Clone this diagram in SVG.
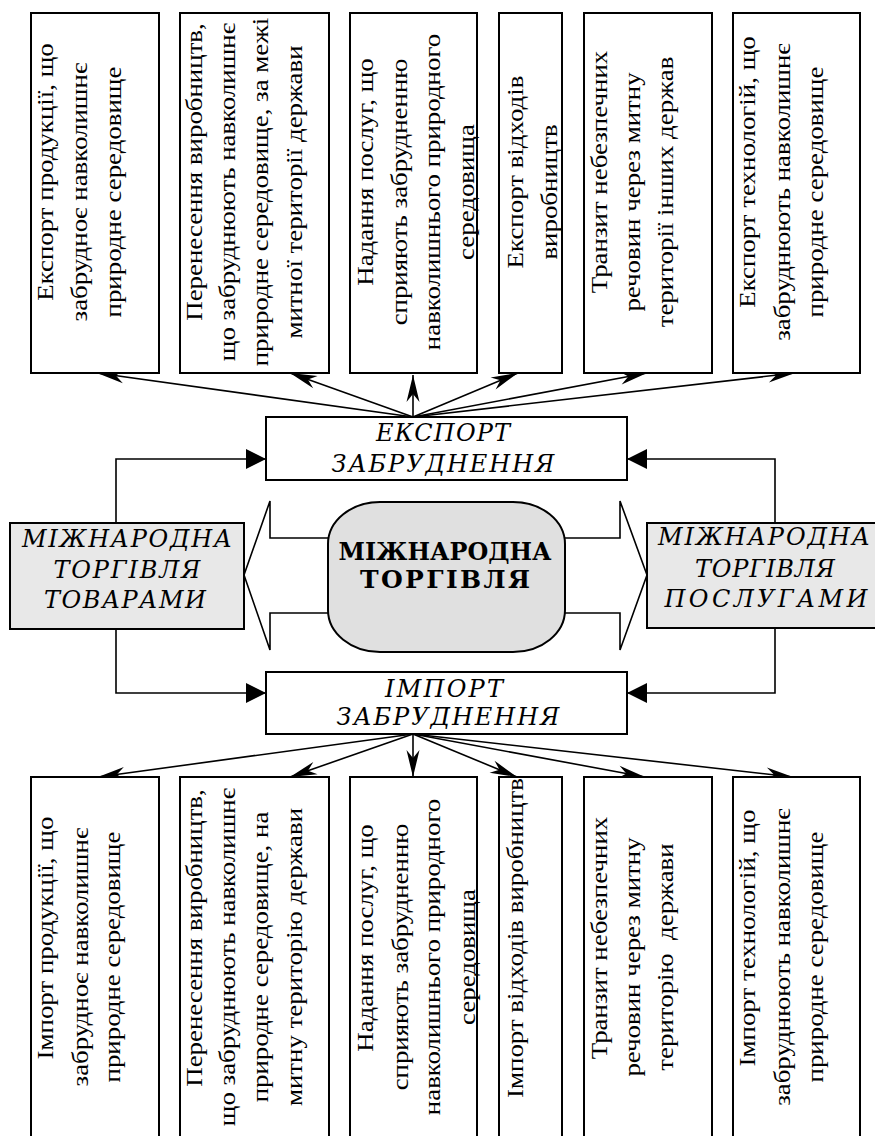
<svg xmlns="http://www.w3.org/2000/svg" width="875" height="1136" viewBox="0 0 875 1136">
<defs>
<style>
.box{fill:#fff;stroke:#000;stroke-width:2}
.gbox{fill:#e8e8e8;stroke:#000;stroke-width:2}
.vt{font-family:"Liberation Serif","Times New Roman",serif;font-size:24px;text-anchor:middle;white-space:pre}
.it{font-family:"DejaVu Serif",serif;font-style:italic;font-size:24px;text-anchor:middle}
.bd{font-family:"DejaVu Serif",serif;font-weight:bold;font-size:25px;text-anchor:middle}
.ln{fill:none;stroke:#000;stroke-width:1.6}
.blk{fill:#fff;stroke:#000;stroke-width:1.6}
</style>
<marker id="st" markerUnits="userSpaceOnUse" viewBox="-28 -7 30 14" refX="0" refY="0" markerWidth="30" markerHeight="14" orient="auto">
<path d="M0,0 L-27,-6.5 L-19,0 L-27,6.5 z" fill="#000"/>
</marker>
<marker id="tri" markerUnits="userSpaceOnUse" viewBox="-21 -11 22 22" refX="0" refY="0" markerWidth="22" markerHeight="22" orient="auto">
<path d="M0,0 L-20,-10 L-20,10 z" fill="#000"/>
</marker>
</defs>
<rect width="875" height="1136" fill="#fff"/>

<g id="connectors">
<line class="ln" x1="413" y1="417" x2="97" y2="373" marker-end="url(#st)"/>
<line class="ln" x1="413" y1="417" x2="290" y2="373" marker-end="url(#st)"/>
<line class="ln" x1="413" y1="417" x2="413" y2="375" marker-end="url(#st)"/>
<line class="ln" x1="413" y1="417" x2="518" y2="373" marker-end="url(#st)"/>
<line class="ln" x1="413" y1="417" x2="647" y2="373" marker-end="url(#st)"/>
<line class="ln" x1="413" y1="417" x2="795" y2="373" marker-end="url(#st)"/>
<line class="ln" x1="413" y1="734" x2="98" y2="777" marker-end="url(#st)"/>
<line class="ln" x1="413" y1="734" x2="290" y2="777" marker-end="url(#st)"/>
<line class="ln" x1="413" y1="734" x2="413" y2="777" marker-end="url(#st)"/>
<line class="ln" x1="413" y1="734" x2="517" y2="777" marker-end="url(#st)"/>
<line class="ln" x1="413" y1="734" x2="645" y2="777" marker-end="url(#st)"/>
<line class="ln" x1="413" y1="734" x2="793" y2="777" marker-end="url(#st)"/>
<polyline class="ln" points="116,523 116,459 266,459" marker-end="url(#tri)"/>
<polyline class="ln" points="116,629 116,693 266,693" marker-end="url(#tri)"/>
<polyline class="ln" points="775,523 775,459 627,459" marker-end="url(#tri)"/>
<polyline class="ln" points="775,628 775,693 627,693" marker-end="url(#tri)"/>
<polygon class="blk" points="333,538 270,538 270,501 244,575 270,650 270,613 333,613"/>
<polygon class="blk" points="560,538 620,538 620,501 647,575 620,650 620,613 560,613"/>
</g>

<g id="export-1"><rect class="box" x="31" y="13" width="128" height="360"/>
<text class="vt" transform="translate(53,172) rotate(-90) scale(1.12,1)">Експорт продукції, що</text>
<text class="vt" transform="translate(87,192) rotate(-90) scale(1.12,1)">забрудноє навколишнє</text>
<text class="vt" transform="translate(121,192) rotate(-90) scale(1.12,1)">природне середовище</text></g>
<g id="export-2"><rect class="box" x="180" y="13" width="149" height="360"/>
<text class="vt" transform="translate(202,172) rotate(-90) scale(1.12,1)">Перенесення виробництв,</text>
<text class="vt" transform="translate(235,192) rotate(-90) scale(1.12,1)">що забруднюють навколишнє</text>
<text class="vt" transform="translate(268,192) rotate(-90) scale(1.12,1)">природне середовище, за межі</text>
<text class="vt" transform="translate(302,192) rotate(-90) scale(1.12,1)">митної території держави</text></g>
<g id="export-3"><rect class="box" x="350" y="13" width="127" height="360"/>
<text class="vt" transform="translate(373,172) rotate(-90) scale(1.12,1)">Надання послуг, що</text>
<text class="vt" transform="translate(407,192) rotate(-90) scale(1.12,1)">сприяють забрудненню</text>
<text class="vt" transform="translate(440,192) rotate(-90) scale(1.12,1)">навколишнього природного</text>
<text class="vt" transform="translate(474,192) rotate(-90) scale(1.12,1)">середовища</text></g>
<g id="export-4"><rect class="box" x="499" y="13" width="63" height="360"/>
<text class="vt" transform="translate(523,172) rotate(-90) scale(1.12,1)">Експорт відходів</text>
<text class="vt" transform="translate(557,192) rotate(-90) scale(1.12,1)">виробництв</text></g>
<g id="export-5"><rect class="box" x="584" y="13" width="128" height="360"/>
<text class="vt" transform="translate(607,172) rotate(-90) scale(1.12,1)">Транзит небезпечних</text>
<text class="vt" transform="translate(640,192) rotate(-90) scale(1.12,1)">речовин через митну</text>
<text class="vt" transform="translate(673,192) rotate(-90) scale(1.12,1)">території інших держав</text></g>
<g id="export-6"><rect class="box" x="733" y="13" width="127" height="360"/>
<text class="vt" transform="translate(755,172) rotate(-90) scale(1.12,1)">Експорт технологій, що</text>
<text class="vt" transform="translate(790,192) rotate(-90) scale(1.12,1)">забруднюють навколишнє</text>
<text class="vt" transform="translate(823,192) rotate(-90) scale(1.12,1)">природне середовище</text></g>

<g id="export-pollution"><rect class="box" x="266" y="417" width="361" height="63"/>
<text class="it" x="443" y="441" textLength="134" lengthAdjust="spacing">ЕКСПОРТ</text>
<text class="it" x="443" y="472" textLength="223" lengthAdjust="spacing">ЗАБРУДНЕННЯ</text></g>
<g id="import-pollution"><rect class="box" x="266" y="672" width="361" height="62"/>
<text class="it" x="444" y="697" textLength="118" lengthAdjust="spacing">ІМПОРТ</text>
<text class="it" x="448" y="725" textLength="223" lengthAdjust="spacing">ЗАБРУДНЕННЯ</text></g>
<g id="trade-goods"><rect class="gbox" x="10" y="523" width="234" height="106"/>
<text class="it" x="127" y="547" textLength="210" lengthAdjust="spacing">МІЖНАРОДНА</text>
<text class="it" x="127" y="578" textLength="147" lengthAdjust="spacing">ТОРГІВЛЯ</text>
<text class="it" x="125" y="608" textLength="162" lengthAdjust="spacing">ТОВАРАМИ</text></g>
<g id="trade-services"><rect class="gbox" x="647" y="523" width="240" height="105"/>
<text class="it" x="764" y="545" textLength="212" lengthAdjust="spacing">МІЖНАРОДНА</text>
<text class="it" x="765" y="577" textLength="140" lengthAdjust="spacing">ТОРГІВЛЯ</text>
<text class="it" x="766" y="607" textLength="203" lengthAdjust="spacing">ПОСЛУГАМИ</text></g>
<g id="trade"><rect x="328" y="502" width="237" height="150" rx="52" ry="42" fill="#e0e0e0" stroke="#000" stroke-width="2"/>
<text class="bd" x="445" y="560" textLength="213" lengthAdjust="spacingAndGlyphs">МІЖНАРОДНА</text>
<text class="bd" x="445" y="588" textLength="170" lengthAdjust="spacing">ТОРГІВЛЯ</text></g>

<g id="import-1"><rect class="box" x="31" y="777" width="128" height="380"/>
<text class="vt" transform="translate(53,938) rotate(-90) scale(1.12,1)">Імпорт продукції, що</text>
<text class="vt" transform="translate(88,957) rotate(-90) scale(1.12,1)">забрудноє навколишнє</text>
<text class="vt" transform="translate(120,957) rotate(-90) scale(1.12,1)">природне середовище</text></g>
<g id="import-2"><rect class="box" x="180" y="777" width="149" height="380"/>
<text class="vt" transform="translate(202,938) rotate(-90) scale(1.12,1)">Перенесення виробництв,</text>
<text class="vt" transform="translate(235,957) rotate(-90) scale(1.12,1)">що забруднюють навколишнє</text>
<text class="vt" transform="translate(268,957) rotate(-90) scale(1.12,1)">природне середовище, на</text>
<text class="vt" transform="translate(302,957) rotate(-90) scale(1.12,1)">митну територію держави</text></g>
<g id="import-3"><rect class="box" x="350" y="777" width="127" height="380"/>
<text class="vt" transform="translate(373,938) rotate(-90) scale(1.12,1)">Надання послуг, що</text>
<text class="vt" transform="translate(408,957) rotate(-90) scale(1.12,1)">сприяють забрудненню</text>
<text class="vt" transform="translate(440,957) rotate(-90) scale(1.12,1)">навколишнього природного</text>
<text class="vt" transform="translate(475,957) rotate(-90) scale(1.12,1)">середовища</text></g>
<g id="import-4"><rect class="box" x="499" y="777" width="63" height="380"/>
<text class="vt" transform="translate(523,938) rotate(-90) scale(1.12,1)">Імпорт відходів виробництв</text></g>
<g id="import-5"><rect class="box" x="584" y="777" width="128" height="380"/>
<text class="vt" transform="translate(607,938) rotate(-90) scale(1.12,1)">Транзит небезпечних</text>
<text class="vt" transform="translate(640,957) rotate(-90) scale(1.12,1)">речовин через митну</text>
<text class="vt" transform="translate(673,957) rotate(-90) scale(1.12,1)">територію  держави</text></g>
<g id="import-6"><rect class="box" x="733" y="777" width="127" height="380"/>
<text class="vt" transform="translate(755,938) rotate(-90) scale(1.12,1)">Імпорт технологій, що</text>
<text class="vt" transform="translate(790,957) rotate(-90) scale(1.12,1)">забруднюють навколишнє</text>
<text class="vt" transform="translate(823,957) rotate(-90) scale(1.12,1)">природне середовище</text></g>
</svg>
